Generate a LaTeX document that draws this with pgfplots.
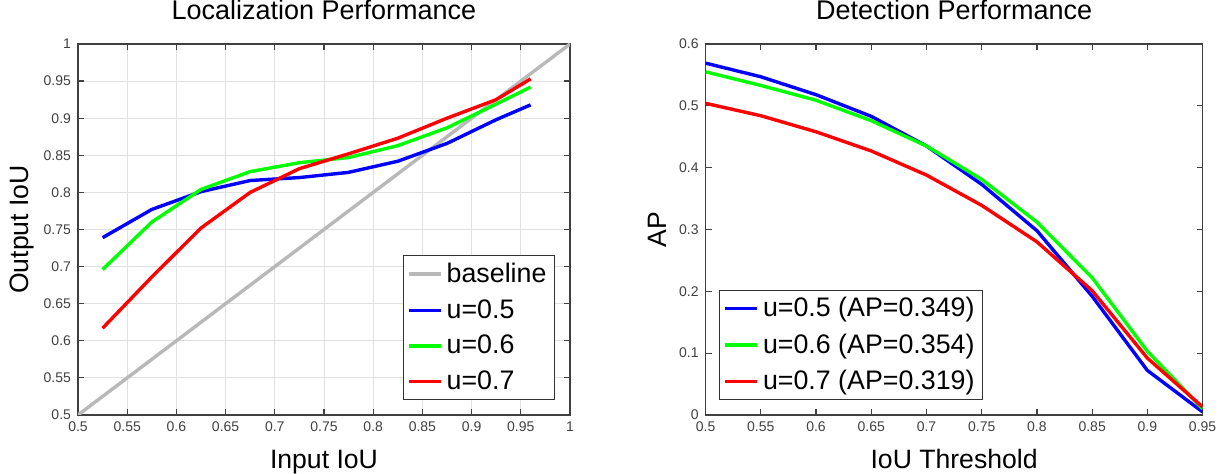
\documentclass[border=0pt]{standalone}
\usepackage{fontspec}
\setmainfont{Liberation Sans}
\usepackage{pgfplots}
\pgfplotsset{compat=1.18}

\definecolor{mblue}{rgb}{0,0,1}
\definecolor{mgreen}{rgb}{0,1,0}
\definecolor{mred}{rgb}{1,0,0}
\definecolor{mgray}{rgb}{0.72,0.72,0.72}
\definecolor{axgray}{rgb}{0.25,0.25,0.25}

\pgfplotsset{
  mstyle/.style={
    scale only axis,
    height=185.5pt,
    tick pos=both,
    tick align=inside,
    major tick length=3pt,
    axis line style={axgray, line width=0.6pt},
    tick style={axgray, line width=0.6pt},
    ticklabel style={font=\fontsize{7}{8}\selectfont, text=axgray},
    /pgf/number format/assume math mode=true,
    label style={font=\fontsize{13.3}{14}\selectfont},
    title style={font=\fontsize{13.5}{14}\selectfont, at={(axis description cs:0.5,1)}, anchor=base, yshift=6pt},
    xlabel style={at={(axis description cs:0.5,0)}, anchor=base, yshift=-27pt},
    legend style={font=\fontsize{13.4}{13.4}\selectfont, draw=black!80, line width=0.5pt,
      inner xsep=2pt, inner ysep=1.5pt, row sep=3pt,
      cells={anchor=west}},
    legend image code/.code={\draw[#1] (0pt,0pt) -- (16pt,0pt);},
    every axis plot/.append style={line width=1.7pt},
  }
}

\begin{document}
\begin{tikzpicture}
\begin{axis}[
  mstyle,
  width=246pt,
  xmin=0.5, xmax=1, ymin=0.5, ymax=1,
  xtick={0.5,0.55,0.6,0.65,0.7,0.75,0.8,0.85,0.9,0.95,1},
  ytick={0.5,0.55,0.6,0.65,0.7,0.75,0.8,0.85,0.9,0.95,1},
  grid=major,
  major grid style={black!12, line width=0.4pt},
  title={Localization Performance},
  xlabel={Input IoU},
  ylabel={Output IoU},
  ylabel style={at={(axis description cs:-0.114,0.5)}, anchor=center},
  legend style={at={(1,0)}, anchor=south east, xshift=-7.5pt, yshift=7.5pt},
]
\addplot[mgray] coordinates {(0.5,0.5)(1,1)};
\addlegendentry{baseline}
\addplot[mblue] coordinates {(0.525,0.739)(0.575,0.777)(0.625,0.801)(0.675,0.816)(0.725,0.820)
  (0.775,0.827)(0.825,0.842)(0.875,0.866)(0.925,0.898)(0.96,0.918)};
\addlegendentry{u=0.5}
\addplot[mgreen] coordinates {(0.525,0.696)(0.575,0.760)(0.625,0.804)(0.675,0.828)(0.725,0.840)
  (0.775,0.847)(0.825,0.863)(0.875,0.887)(0.925,0.919)(0.96,0.942)};
\addlegendentry{u=0.6}
\addplot[mred] coordinates {(0.525,0.617)(0.575,0.686)(0.625,0.752)(0.675,0.800)(0.725,0.832)
  (0.775,0.852)(0.825,0.873)(0.875,0.900)(0.925,0.925)(0.96,0.953)};
\addlegendentry{u=0.7}
\end{axis}

\begin{axis}[
  mstyle,
  at={(313.8pt,0pt)},
  width=248.5pt,
  xmin=0.5, xmax=0.95, ymin=0, ymax=0.6,
  xtick={0.5,0.55,0.6,0.65,0.7,0.75,0.8,0.85,0.9,0.95},
  ytick={0,0.1,0.2,0.3,0.4,0.5,0.6},
  title={Detection Performance},
  xlabel={IoU Threshold},
  ylabel={AP},
  ylabel style={at={(axis description cs:-0.097,0.5)}, anchor=center},
  legend style={at={(0,0)}, anchor=south west, xshift=6.75pt, yshift=7.5pt},
]
\addplot[mblue] coordinates {(0.5,0.569)(0.55,0.547)(0.6,0.518)(0.65,0.483)(0.7,0.435)
  (0.75,0.373)(0.8,0.298)(0.85,0.192)(0.9,0.072)(0.95,0.005)};
\addlegendentry{u=0.5 (AP=0.349)}
\addplot[mgreen] coordinates {(0.5,0.555)(0.55,0.533)(0.6,0.509)(0.65,0.476)(0.7,0.435)
  (0.75,0.381)(0.8,0.312)(0.85,0.222)(0.9,0.103)(0.95,0.010)};
\addlegendentry{u=0.6 (AP=0.354)}
\addplot[mred] coordinates {(0.5,0.504)(0.55,0.484)(0.6,0.458)(0.65,0.427)(0.7,0.388)
  (0.75,0.339)(0.8,0.280)(0.85,0.201)(0.9,0.092)(0.95,0.013)};
\addlegendentry{u=0.7 (AP=0.319)}
\end{axis}

\pgfresetboundingbox
\useasboundingbox (-39pt,-29.5pt) rectangle (571pt,207.5pt);
\end{tikzpicture}
\end{document}
